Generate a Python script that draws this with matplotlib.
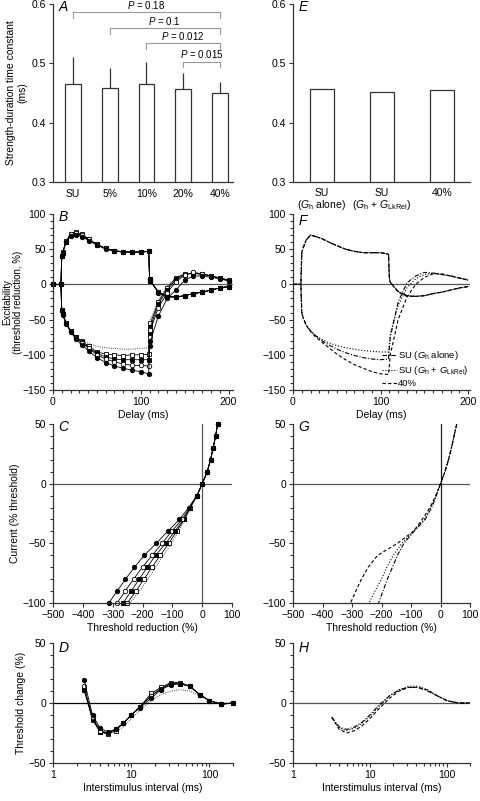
import numpy as np
import matplotlib
matplotlib.use('Agg')
import matplotlib.pyplot as plt
from matplotlib.ticker import MultipleLocator, LogLocator, FixedLocator

plt.rcParams['font.family'] = ['Liberation Sans', 'DejaVu Sans']
plt.rcParams['mathtext.fontset'] = 'custom'
plt.rcParams['mathtext.rm'] = 'Liberation Sans'
plt.rcParams['mathtext.it'] = 'Liberation Sans:italic'
plt.rcParams['font.size'] = 7.5

# ---- data ----
# A: strength-duration time constant
a_labels = ['SU', '5%', '10%', '20%', '40%']
a_means = [0.465, 0.459, 0.465, 0.457, 0.450]
a_errs = [0.046, 0.033, 0.038, 0.026, 0.019]
p_pairs = [(0, 0.587, 'P = 0.18'), (1, 0.560, 'P = 0.1'), (2, 0.534, 'P = 0.012'), (3, 0.503, 'P = 0.015')]

# E: model values
e_labels = ['SU\n($G_{\\mathrm{h}}$ alone)', 'SU\n($G_{\\mathrm{h}}$ + $G_{\\mathrm{LkRel}}$)', '40%']
e_vals = [0.457, 0.451, 0.455]

# B: threshold electrotonus
delay = [0, 9, 10, 11, 15, 20, 26, 33, 41, 50, 60, 70, 80, 90, 100, 109, 110, 111,
         120, 130, 140, 150, 160, 170, 180, 190, 200]
ted_su = [0, 0, 41, 46, 60, 70, 71, 69, 63, 56, 51, 48, 46, 46, 46, 47, 8, 5, -11, -17, -18, -16, -13, -11, -8, -5, -3]
ted_5 = [0, 0, 41, 46, 61, 72, 74, 71, 64, 57, 51, 48, 46, 46, 46, 47, 8, 5, -11, -17, -18, -16, -13, -11, -8, -5, -3]
ted_10 = [0, 0, 40, 45, 60, 70, 71, 69, 63, 56, 51, 48, 46, 46, 46, 47, 8, 5, -11, -17, -18, -16, -13, -11, -8, -5, -3]
ted_20 = [0, 0, 41, 46, 61, 72, 73, 70, 64, 57, 51, 48, 46, 46, 46, 47, 8, 5, -11, -17, -18, -16, -13, -11, -8, -5, -3]
ted_40 = [0, 0, 40, 45, 60, 69, 70, 68, 62, 56, 50, 47, 46, 46, 46, 47, 8, 5, -12, -18, -18, -16, -13, -11, -8, -5, -3]
teh_su = [0, 0, -37, -42, -55, -66, -75, -80, -84, -88, -90, -91, -92, -92, -91, -90, -60, -50, -22, -3, 10, 15, 16, 14, 12, 9, 6]
teh_5 = [0, 0, -37, -42, -55, -66, -75, -81, -88, -96, -99, -100, -101, -100, -100, -99, -65, -55, -25, -5, 9, 15, 16, 15, 12, 9, 6]
teh_10 = [0, 0, -37, -42, -55, -66, -75, -82, -90, -98, -103, -106, -107, -107, -107, -107, -70, -60, -28, -8, 7, 14, 16, 14, 12, 9, 5]
teh_20 = [0, 0, -37, -42, -55, -66, -76, -83, -91, -100, -106, -110, -113, -115, -115, -116, -75, -65, -33, -12, 4, 13, 17, 15, 12, 9, 6]
teh_40 = [0, 0, -38, -43, -56, -67, -78, -86, -95, -104, -111, -116, -119, -122, -124, -127, -88, -80, -45, -20, -8, 6, 12, 12, 10, 8, 5]

# F: threshold electrotonus, model variants
ted_f_ga = [0, 0, 45, 50, 63, 70, 68, 65, 60, 55, 50, 47, 45, 45, 45, 43, 8, 3, -10, -16, -17, -16, -13, -11, -8, -5, -3]
ted_f_gl = [0, 0, 45, 50, 63, 70, 68, 65, 60, 55, 50, 47, 45, 45, 45, 43, 8, 3, -10, -16, -17, -16, -13, -11, -8, -5, -3]
ted_f_40 = [0, 0, 45, 50, 63, 70, 68, 65, 60, 55, 50, 47, 45, 45, 45, 43, 8, 3, -11, -17, -17, -16, -13, -11, -8, -5, -3]
teh_f_ga = [0, 0, -40, -45, -58, -66, -73, -80, -86, -92, -97, -101, -104, -106, -107, -106, -90, -75, -25, 2, 12, 17, 16, 14, 12, 9, 6]
teh_f_gl = [0, 0, -40, -45, -58, -66, -73, -78, -83, -87, -90, -92, -94, -95, -96, -96, -85, -70, -30, -5, 8, 14, 16, 14, 12, 9, 7]
teh_f_40 = [0, 0, -40, -45, -58, -67, -75, -82, -90, -99, -107, -114, -119, -124, -127, -128, -115, -100, -50, -18, 0, 10, 15, 15, 12, 9, 6]

# C: current-threshold relationship
current = [50, 40, 30, 20, 10, 0, -10, -20, -30, -40, -50, -60, -70, -80, -90, -100]
iv_su = [52, 45, 37, 28, 17, 0, -17, -38, -56, -80, -103, -130, -156, -182, -210, -242]
iv_5 = [52, 45, 37, 28, 17, 0, -17, -40, -60, -86, -112, -140, -168, -195, -222, -251]
iv_10 = [52, 45, 37, 28, 17, 0, -17, -41, -62, -92, -122, -156, -184, -211, -238, -265]
iv_20 = [52, 45, 37, 28, 17, 0, -17, -42, -67, -103, -134, -168, -200, -230, -258, -285]
iv_40 = [52, 45, 37, 28, 17, 0, -18, -45, -76, -116, -154, -194, -227, -257, -285, -313]

# G: current-threshold relationship, model variants
iv_g_ga = [55, 46, 37, 27, 15, 0, -14, -30, -52, -90, -124, -146, -163, -180, -195, -210]
iv_g_gl = [55, 46, 37, 27, 15, 0, -15, -32, -55, -92, -131, -160, -182, -200, -222, -242]
iv_g_40 = [55, 46, 37, 27, 15, 0, -16, -36, -62, -92, -146, -213, -245, -268, -287, -305]

# D: recovery cycle
isi = [2.5, 3.2, 4, 5, 6.3, 7.9, 10, 13, 18, 24, 32, 42, 56, 75, 100, 140, 200]
rc_su = [10, -14, -24, -25, -24, -20, -13, -6, 2, 7, 10, 11, 10, 6, 2, 0, 0]
rc_5 = [12, -14, -24, -26, -23, -17, -10, -3, 8, 13, 17, 17, 14, 7, 2, -1, 0]
rc_10 = [11, -13, -24, -25, -22, -17, -10, -3, 6, 12, 16, 16, 14, 7, 2, -1, 0]
rc_20 = [14, -12, -23, -25, -22, -17, -10, -3, 6, 12, 16, 17, 14, 7, 2, -1, 0]
rc_40 = [19, -10, -21, -24, -22, -17, -10, -4, 4, 11, 15, 16, 14, 7, 2, -1, 0]

# H: recovery cycle, model variants
isi_h = [3.2, 4, 5, 6.3, 7.9, 10, 13, 18, 24, 32, 42, 56, 75, 100, 140, 200]
rc_h_ga = [-12, -20, -22, -20, -16, -10, -2, 6, 11, 13, 13, 10, 6, 2, 0, 0]
rc_h_gl = [-12, -21, -23, -21, -17, -11, -3, 6, 11, 14, 14, 11, 6, 2, 0, 0]
rc_h_40 = [-12, -22, -25, -23, -19, -13, -5, 4, 10, 13, 13, 11, 6, 2, 0, 0]

axcol = '#333333'
fig = plt.figure(figsize=(4.8, 8.01), dpi=100)


def rect(l, r, t, b):
    return [l / 480, 1 - b / 801, (r - l) / 480, (b - t) / 801]


def style(ax, letter, lx=0.03, ly=1.02):
    for s in ['top', 'right']:
        ax.spines[s].set_visible(False)
    for s in ['left', 'bottom']:
        ax.spines[s].set_color(axcol)
        ax.spines[s].set_linewidth(0.9)
    ax.tick_params(which='both', direction='out', color=axcol, width=0.8, labelsize=7.5, pad=2)
    ax.tick_params(which='major', length=3)
    ax.tick_params(which='minor', length=2)
    ax.text(lx, ly, letter, transform=ax.transAxes, style='italic', fontsize=10,
            va='top', ha='left')


# symbols for the 5 models
models_b = [
    (ted_su, teh_su, dict(ls=':', marker=None)),
    (ted_5, teh_5, dict(ls='-', marker='s', mfc='white')),
    (ted_10, teh_10, dict(ls='-', marker='s', mfc='black')),
    (ted_20, teh_20, dict(ls='-', marker='o', mfc='white')),
    (ted_40, teh_40, dict(ls='-', marker='o', mfc='black')),
]

# ---- A ----
ax = fig.add_axes(rect(53, 233, 4, 182))
x = np.arange(len(a_labels))
ax.bar(x, a_means, width=0.42, color='white', edgecolor=axcol, linewidth=0.9)
ax.errorbar(x, a_means, yerr=[np.zeros(len(a_errs)), a_errs], fmt='none', ecolor=axcol,
            elinewidth=0.9, capsize=0)
ax.set_xlim(-0.55, 4.36)
ax.set_ylim(0.3, 0.6)
ax.yaxis.set_major_locator(MultipleLocator(0.1))
ax.set_xticks(x)
ax.set_xticklabels(a_labels)
style(ax, 'A')
ax.tick_params(axis='x', length=0, pad=5)
for i, h, txt in p_pairs:
    ax.plot([i, i, 4, 4], [h - 0.01, h, h, h - 0.01], color='#999999', lw=0.8, clip_on=False)
    ax.text((i + 4) / 2, h + 0.002, txt.replace('P', '$P$'), ha='center', va='bottom', fontsize=7)
ax.set_ylabel('Strength-duration time constant\n(ms)', fontsize=7.5, labelpad=3)

# ---- E ----
ax = fig.add_axes(rect(293, 470, 4, 182))
x = np.arange(len(e_vals))
ax.bar(x, e_vals, width=0.4, color='white', edgecolor=axcol, linewidth=0.9)
ax.set_xlim(-0.48, 2.47)
ax.set_ylim(0.3, 0.6)
ax.yaxis.set_major_locator(MultipleLocator(0.1))
ax.set_xticks(x)
ax.set_xticklabels(e_labels, fontsize=6.5, va='top', linespacing=1.0)
style(ax, 'E')
ax.tick_params(axis='x', length=0, pad=4)

# ---- B ----
ax = fig.add_axes(rect(53, 233, 214, 390))
ax.axhline(0, color='#555555', lw=0.9)
for ted, teh, kw in models_b:
    for y in (ted, teh):
        ax.plot(delay, y, color='black', lw=0.6, ls=kw['ls'], marker=kw['marker'],
                ms=3.2, mfc=kw.get('mfc', 'black'), mec='black', mew=0.6, clip_on=False)
ax.set_xlim(0, 205)
ax.set_ylim(-150, 100)
ax.xaxis.set_major_locator(MultipleLocator(100))
ax.xaxis.set_minor_locator(MultipleLocator(10))
ax.yaxis.set_major_locator(MultipleLocator(50))
ax.yaxis.set_minor_locator(MultipleLocator(10))
style(ax, 'B')
ax.set_xlabel('Delay (ms)', labelpad=2)
ax.set_ylabel('Excitability\n(threshold reduction, %)', fontsize=7, labelpad=0, linespacing=1.1)

# ---- F ----
ax = fig.add_axes(rect(293, 470, 214, 390))
ax.axhline(0, color='#555555', lw=0.9)
l1, = ax.plot(delay, ted_f_ga, color='black', lw=0.8, ls='-.', dashes=(4, 1.5, 1, 1.5))
ax.plot(delay, teh_f_ga, color='black', lw=0.8, ls='-.', dashes=(4, 1.5, 1, 1.5))
l2, = ax.plot(delay, ted_f_gl, color='black', lw=0.8, ls=':')
ax.plot(delay, teh_f_gl, color='black', lw=0.8, ls=':')
l3, = ax.plot(delay, ted_f_40, color='black', lw=0.8, ls='--', dashes=(3, 2))
ax.plot(delay, teh_f_40, color='black', lw=0.8, ls='--', dashes=(3, 2))
ax.set_xlim(0, 202)
ax.set_ylim(-150, 100)
ax.xaxis.set_major_locator(MultipleLocator(100))
ax.xaxis.set_minor_locator(MultipleLocator(10))
ax.yaxis.set_major_locator(MultipleLocator(50))
ax.yaxis.set_minor_locator(MultipleLocator(10))
style(ax, 'F', ly=1.0)
ax.set_xlabel('Delay (ms)', labelpad=2)
ax.legend([l1, l2, l3], ['SU ($G_{\\mathrm{h}}$ alone)', 'SU ($G_{\\mathrm{h}}$ + $G_{\\mathrm{LkRel}}$)', '40%'],
          loc='lower right', frameon=False, fontsize=6.8, handlelength=1.6, handletextpad=0.1,
          borderaxespad=0.0, labelspacing=0.2, borderpad=0.2)

# ---- C ----
ax = fig.add_axes(rect(53, 232, 424, 603))
ax.axhline(0, color='#555555', lw=0.9)
ax.axvline(0, color='#555555', lw=0.9)
for iv, kw in zip([iv_su, iv_5, iv_10, iv_20, iv_40], [m[2] for m in models_b]):
    ax.plot(iv, current, color='black', lw=0.6, ls=kw['ls'], marker=kw['marker'],
            ms=3.2, mfc=kw.get('mfc', 'black'), mec='black', mew=0.6, clip_on=False)
ax.set_xlim(-500, 100)
ax.set_ylim(-100, 50)
ax.xaxis.set_major_locator(MultipleLocator(100))
ax.yaxis.set_major_locator(MultipleLocator(50))
ax.yaxis.set_minor_locator(MultipleLocator(10))
style(ax, 'C')
ax.set_xlabel('Threshold reduction (%)', labelpad=2)
ax.set_ylabel('Current (% threshold)', labelpad=2)

# ---- G ----
ax = fig.add_axes(rect(293, 470, 424, 603))
ax.axhline(0, color='#555555', lw=0.9)
ax.axvline(0, color='#222222', lw=0.9)
ax.plot(iv_g_ga, current, color='black', lw=0.8, ls='-.', dashes=(4, 1.5, 1, 1.5))
ax.plot(iv_g_gl, current, color='black', lw=0.8, ls=':')
ax.plot(iv_g_40, current, color='black', lw=0.8, ls='--', dashes=(3, 2))
ax.set_xlim(-500, 100)
ax.set_ylim(-100, 50)
ax.xaxis.set_major_locator(MultipleLocator(100))
ax.yaxis.set_major_locator(MultipleLocator(50))
ax.yaxis.set_minor_locator(MultipleLocator(10))
style(ax, 'G')
ax.set_xlabel('Threshold reduction (%)', labelpad=2)

# ---- D ----
ax = fig.add_axes(rect(53, 233, 643, 763))
ax.axhline(0, color='black', lw=0.9)
for rc, kw in zip([rc_su, rc_5, rc_10, rc_20, rc_40], [m[2] for m in models_b]):
    ax.plot(isi, rc, color='black', lw=0.6, ls=kw['ls'], marker=kw['marker'],
            ms=3.2, mfc=kw.get('mfc', 'black'), mec='black', mew=0.6, clip_on=False)
ax.set_xscale('log')
ax.set_xlim(1, 200)
ax.set_ylim(-50, 50)
ax.xaxis.set_major_locator(FixedLocator([1, 10, 100]))
ax.xaxis.set_minor_locator(LogLocator(base=10, subs=np.arange(2, 10)))
ax.set_xticklabels(['1', '10', '100'])
ax.yaxis.set_major_locator(MultipleLocator(50))
ax.yaxis.set_minor_locator(MultipleLocator(10))
style(ax, 'D')
ax.set_xlabel('Interstimulus interval (ms)', labelpad=2)
ax.set_ylabel('Threshold change (%)', labelpad=2)

# ---- H ----
ax = fig.add_axes(rect(293, 470, 643, 763))
ax.axhline(0, color='#555555', lw=0.9)
ax.plot(isi_h, rc_h_ga, color='black', lw=0.8, ls='-.', dashes=(4, 1.5, 1, 1.5))
ax.plot(isi_h, rc_h_gl, color='black', lw=0.8, ls=':')
ax.plot(isi_h, rc_h_40, color='black', lw=0.8, ls='--', dashes=(3, 2))
ax.set_xscale('log')
ax.set_xlim(1, 200)
ax.set_ylim(-50, 50)
ax.xaxis.set_major_locator(FixedLocator([1, 10, 100]))
ax.xaxis.set_minor_locator(LogLocator(base=10, subs=np.arange(2, 10)))
ax.set_xticklabels(['1', '10', '100'])
ax.yaxis.set_major_locator(MultipleLocator(50))
ax.yaxis.set_minor_locator(MultipleLocator(10))
style(ax, 'H')
ax.set_xlabel('Interstimulus interval (ms)', labelpad=2)

fig.savefig('out.png', dpi=100)
